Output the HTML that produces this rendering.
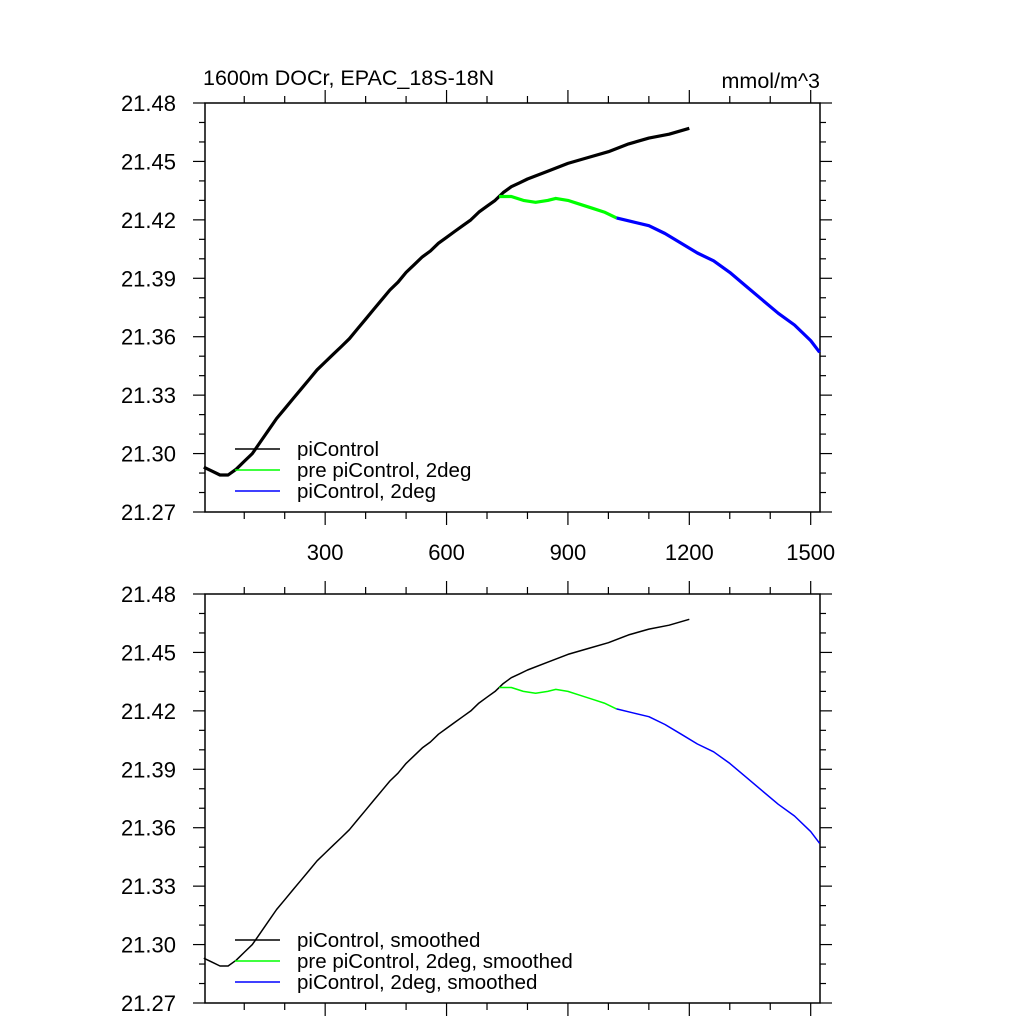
<!DOCTYPE html>
<html><head><meta charset="utf-8"><style>
body{margin:0;background:#fff;}
svg text{font-family:"Liberation Sans",sans-serif;fill:#000;}
</style></head><body>
<svg id="c" width="1024" height="1024" viewBox="0 0 1024 1024" xmlns="http://www.w3.org/2000/svg">
<text x="203" y="85" font-size="21.5">1600m DOCr, EPAC_18S-18N</text>
<text x="820" y="88" font-size="21.5" text-anchor="end">mmol/m^3</text>
</svg>
<script>
const blackYears=[0,20,40,60,80,100,120,140,160,180,200,220,240,260,280,300,320,340,360,380,400,420,440,460,480,500,520,540,560,580,600,620,640,660,680,700,720,740,760,780,800,850,900,950,1000,1050,1100,1150,1200];
const blackVals=[21.293,21.291,21.289,21.289,21.292,21.296,21.300,21.306,21.312,21.318,21.323,21.328,21.333,21.338,21.343,21.347,21.351,21.355,21.359,21.364,21.369,21.374,21.379,21.384,21.388,21.393,21.397,21.401,21.404,21.408,21.411,21.414,21.417,21.420,21.424,21.427,21.430,21.434,21.437,21.439,21.441,21.445,21.449,21.452,21.455,21.459,21.462,21.464,21.467];
const greenYears=[730,760,790,820,850,870,900,930,960,990,1020];
const greenVals=[21.432,21.432,21.430,21.429,21.430,21.431,21.430,21.428,21.426,21.424,21.421];
const blueYears=[1020,1060,1100,1140,1180,1220,1260,1300,1340,1380,1420,1460,1500,1522];
const blueVals=[21.421,21.419,21.417,21.413,21.408,21.403,21.399,21.393,21.386,21.379,21.372,21.366,21.358,21.352];
const yTicks=[21.27,21.30,21.33,21.36,21.39,21.42,21.45,21.48];
const xTicks=[300,600,900,1200,1500];
const legendTop=["piControl","pre piControl, 2deg","piControl, 2deg"];
const legendBot=["piControl, smoothed","pre piControl, 2deg, smoothed","piControl, 2deg, smoothed"];

const NS="http://www.w3.org/2000/svg";
const svg=document.getElementById('c');
const L=205,R=820,XMIN=3,XMAX=1523,YMIN=21.27,YMAX=21.48;
function mk(t,a){const e=document.createElementNS(NS,t);for(const k in a)e.setAttribute(k,a[k]);svg.appendChild(e);return e;}
function panel(top,bot,labelsX,legend,sw,pname){
  const xs=v=>L+(v-XMIN)/(XMAX-XMIN)*(R-L);
  const ys=v=>bot-(v-YMIN)/(YMAX-YMIN)*(bot-top);
  const fr=mk('rect',{x:L,y:top,width:R-L,height:bot-top,fill:'none',stroke:'#000','stroke-width':1.5});
  
  
  for(let v=100;v<=1500;v+=100){
    const maj=v%300===0, len=maj?13:7, x=xs(v);
    const a=mk('line',{x1:x,x2:x,y1:top,y2:top-len,stroke:'#000','stroke-width':1.2});
    
    
    const b=mk('line',{x1:x,x2:x,y1:bot,y2:bot+len,stroke:'#000','stroke-width':1.2});
    
    
  }
  if(labelsX){xTicks.forEach(v=>{const t=mk('text',{x:xs(v),y:bot+48,'font-size':22,'text-anchor':'middle'});t.textContent=v;
    
    });}
  for(let i=0;i<=21;i++){
    const v=YMIN+i*0.01, maj=i%3===0, len=maj?12:6, y=ys(v);
    const a=mk('line',{x1:L,x2:L-len,y1:y,y2:y,stroke:'#000','stroke-width':1.2});
    
    
    const b=mk('line',{x1:R,x2:R+len,y1:y,y2:y,stroke:'#000','stroke-width':1.2});
    
    
  }
  yTicks.forEach(v=>{const t=mk('text',{x:176,y:ys(v)+8,'font-size':22,'text-anchor':'end'});t.textContent=v.toFixed(2);
    
    });
  const series=[[blackYears,blackVals,'#000','picontrol'],[greenYears,greenVals,'#00ff00','pre-picontrol-2deg'],[blueYears,blueVals,'#0000ff','picontrol-2deg']];
  series.forEach(([xa,va,c,n])=>{
    const d=xa.map((x,i)=>(i?'L':'M')+xs(x).toFixed(1)+','+ys(va[i]).toFixed(1)).join(' ');
    const p=mk('path',{d:d,fill:'none',stroke:c,'stroke-width':sw,'stroke-linejoin':'round'});
    
    
  });
  const ly=bot-63, cols=['#000','#00ff00','#0000ff'];
  legend.forEach((s,i)=>{
    const y=ly+i*21;
    const l=mk('line',{x1:235,x2:280,y1:y,y2:y,stroke:cols[i],'stroke-width':1.5});
    
    
    const t=mk('text',{x:297,y:y+7,'font-size':20.5});t.textContent=s;
    
    
  });
}
panel(103,512,true,legendTop,3.2,'top-panel');
panel(594,1003,false,legendBot,1.5,'bottom-panel');
</script>
</body></html>
